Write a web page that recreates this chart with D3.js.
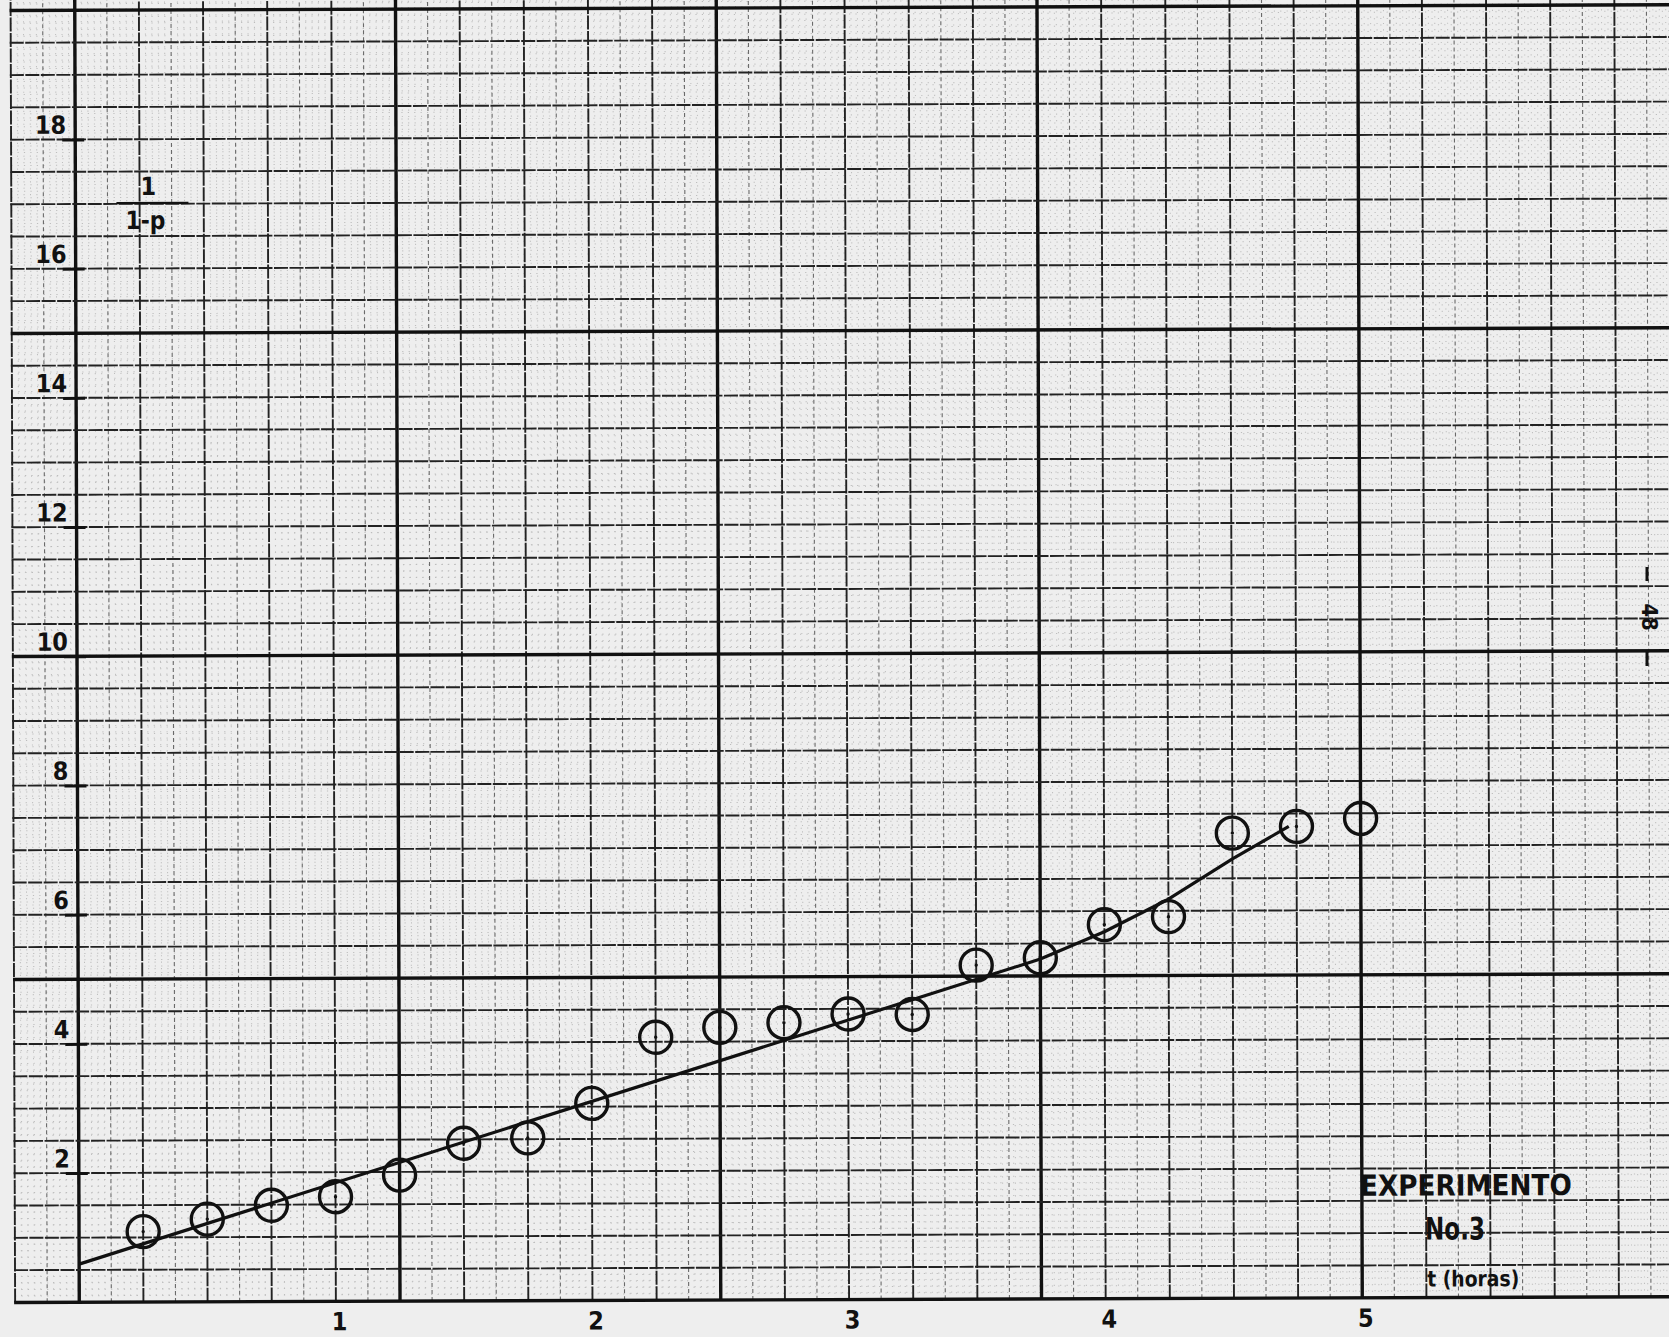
<!DOCTYPE html>
<html>
<head>
<meta charset="utf-8">
<script src="https://cdn.jsdelivr.net/npm/d3@7"></script>
<style>
  html, body { margin: 0; padding: 0; background: #eeeeee; }
  svg { display: block; }
  text { font-family: "DejaVu Sans Condensed", "DejaVu Sans", sans-serif; font-stretch: condensed; font-weight: bold; fill: #111; }
</style>
</head>
<body>
<svg id="chart" width="1669" height="1337"></svg>
<script>
// ---- data ----
const tHours = [0.25, 0.5, 0.75, 1.0, 1.25, 1.5, 1.75, 2.0, 2.25, 2.5, 2.75, 3.0, 3.25, 3.5, 3.75, 4.0, 4.25, 4.5, 4.75, 5.0];
const invOneMinusP = [1.09, 1.28, 1.49, 1.62, 1.95, 2.44, 2.52, 3.05, 4.07, 4.22, 4.29, 4.42, 4.41, 5.17, 5.28, 5.79, 5.91, 7.20, 7.30, 7.42];
const fitT = [0, 3.75, 4.0, 4.25, 4.5, 4.72];
const fitV = [0.59, 5.26, 5.68, 6.18, 6.80, 7.30];
const yTicks = [2, 4, 6, 8, 10, 12, 14, 16, 18];
const xTicks = [1, 2, 3, 4, 5];
const yTitleNum = "1";
const yTitleDen = "1-p";
const noteTitle = "EXPERIMENTO";
const noteNumber = "No.3";
const xTitle = "t (horas)";
const pageNumber = "48";

// ---- layout ----
const W = 1669, H = 1337;
const svg = d3.select("#chart");
svg.append("rect").attr("width", W).attr("height", H).attr("fill", "#eeeeee");

const x = d3.scaleLinear().domain([0, 5]).range([77, 1360]);
const y = d3.scaleLinear().domain([0, 20]).range([1300, 8]);

const g = svg.append("g").attr("transform", "rotate(-0.2,720,650)");

const tMin = -0.25, tMax = x.invert(W + 20);
const vMax = y.invert(-10);
const cellT = 0.125, cellV = 0.5;

// fine dotted sub-grid
const sub = g.append("g").attr("stroke", "#bdbdbd").attr("stroke-width", 1)
  .attr("stroke-dasharray", "1.2 5.2");
d3.range(Math.round(tMin / 0.025), Math.round(tMax / 0.025))
  .filter(k => k % 5 !== 0)
  .forEach(k => sub.append("line")
    .attr("x1", x(k * 0.025)).attr("x2", x(k * 0.025))
    .attr("y1", y(0)).attr("y2", y(vMax)));
d3.range(1, Math.round(vMax / 0.1))
  .filter(k => k % 5 !== 0)
  .forEach(k => sub.append("line")
    .attr("x1", x(tMin)).attr("x2", x(tMax))
    .attr("y1", y(k * 0.1)).attr("y2", y(k * 0.1)));

// cell lines
const grid = g.append("g");
d3.range(Math.round(tMin / cellT), Math.round(tMax / cellT) + 1).forEach(k => {
  const heavy = k % 10 === 0, medium = k % 2 === 0;
  grid.append("line")
    .attr("x1", x(k * cellT)).attr("x2", x(k * cellT))
    .attr("y1", y(0)).attr("y2", y(vMax))
    .attr("stroke", heavy ? "#111" : (medium ? "#222" : "#6a6a6a"))
    .attr("stroke-width", heavy ? 3.4 : (medium ? 1.9 : 1.1))
    .attr("stroke-dasharray", heavy ? null : (medium ? "14 1.5" : "4 3"));
});
d3.range(0, Math.floor(vMax / cellV) + 1).forEach(k => {
  const heavy = k % 10 === 0;
  grid.append("line")
    .attr("x1", x(tMin) - 1).attr("x2", x(tMax))
    .attr("y1", y(k * cellV)).attr("y2", y(k * cellV))
    .attr("stroke", heavy ? "#111" : "#222")
    .attr("stroke-width", heavy ? 3.4 : 1.9)
    .attr("stroke-dasharray", heavy ? null : "14 1.5");
});

const fontFam = "'DejaVu Sans Condensed','DejaVu Sans',sans-serif";

// y axis ticks and labels
const yAxis = g.append("g").attr("transform", `translate(${x(0)},0)`)
  .call(d3.axisLeft(y).tickValues(yTicks).tickSize(12).tickFormat(d3.format("d")));
yAxis.select(".domain").remove();
yAxis.selectAll(".tick line").attr("x1", 9).attr("x2", -13)
  .attr("stroke", "#111").attr("stroke-width", 3);
yAxis.selectAll(".tick text").attr("x", -9).attr("dy", "-0.25em")
  .attr("font-size", 25).attr("fill", "#111")
  .style("font-family", fontFam).style("font-weight", "bold");

// x axis labels
const xAxis = g.append("g").attr("transform", `translate(0,${y(0)})`)
  .call(d3.axisBottom(x).tickValues(xTicks).tickSize(0).tickFormat(d3.format("d")));
xAxis.select(".domain").remove();
xAxis.selectAll(".tick text").attr("x", 3).attr("y", 29).attr("dy", 0)
  .attr("font-size", 25).attr("fill", "#111")
  .style("font-family", fontFam).style("font-weight", "bold");

// fitted line
g.append("path")
  .datum(fitT.map((t, i) => [t, fitV[i]]))
  .attr("fill", "none").attr("stroke", "#111").attr("stroke-width", 3.2)
  .attr("stroke-linejoin", "round")
  .attr("d", d3.line().x(d => x(d[0])).y(d => y(d[1])));

// data points
const pts = tHours.map((t, i) => [t, invOneMinusP[i]]);
g.append("g").selectAll("circle.pt").data(pts).join("circle")
  .attr("class", "pt")
  .attr("cx", d => x(d[0])).attr("cy", d => y(d[1]))
  .attr("r", 16).attr("fill", "none").attr("stroke", "#111").attr("stroke-width", 3.4);
g.append("g").selectAll("circle.c").data(pts).join("circle")
  .attr("class", "c")
  .attr("cx", d => x(d[0])).attr("cy", d => y(d[1]))
  .attr("r", 1.7).attr("fill", "#111");

// y title (fraction)
const yt = g.append("g").attr("transform", "translate(150,0)");
yt.append("text").attr("x", 0).attr("y", 193).attr("text-anchor", "middle")
  .attr("font-size", 25).text(yTitleNum);
yt.append("line").attr("x1", -32).attr("x2", 40).attr("y1", 201).attr("y2", 201)
  .attr("stroke", "#111").attr("stroke-width", 2.4);
yt.append("text").attr("x", -3).attr("y", 227).attr("text-anchor", "middle")
  .attr("font-size", 25).attr("textLength", 40).attr("lengthAdjust", "spacingAndGlyphs").text(yTitleDen);

// note block
g.append("text").attr("x", 1358).attr("y", 1198).attr("font-size", 29)
  .attr("textLength", 212).attr("lengthAdjust", "spacingAndGlyphs").text(noteTitle);
g.append("text").attr("x", 1423).attr("y", 1242).attr("font-size", 31)
  .attr("textLength", 60).attr("lengthAdjust", "spacingAndGlyphs").text(noteNumber);
g.append("text").attr("x", 1425).attr("y", 1289).attr("font-size", 22)
  .attr("textLength", 92).attr("lengthAdjust", "spacingAndGlyphs").text(xTitle);

// page number on right edge
svg.append("text").attr("transform", "translate(1649,617) rotate(90)")
  .attr("text-anchor", "middle").attr("dominant-baseline", "central")
  .attr("font-size", 22).text(pageNumber);
svg.append("line").attr("x1", 1647).attr("x2", 1647).attr("y1", 567).attr("y2", 581)
  .attr("stroke", "#111").attr("stroke-width", 3);
svg.append("line").attr("x1", 1647).attr("x2", 1647).attr("y1", 652).attr("y2", 666)
  .attr("stroke", "#111").attr("stroke-width", 3);
</script>
</body>
</html>
